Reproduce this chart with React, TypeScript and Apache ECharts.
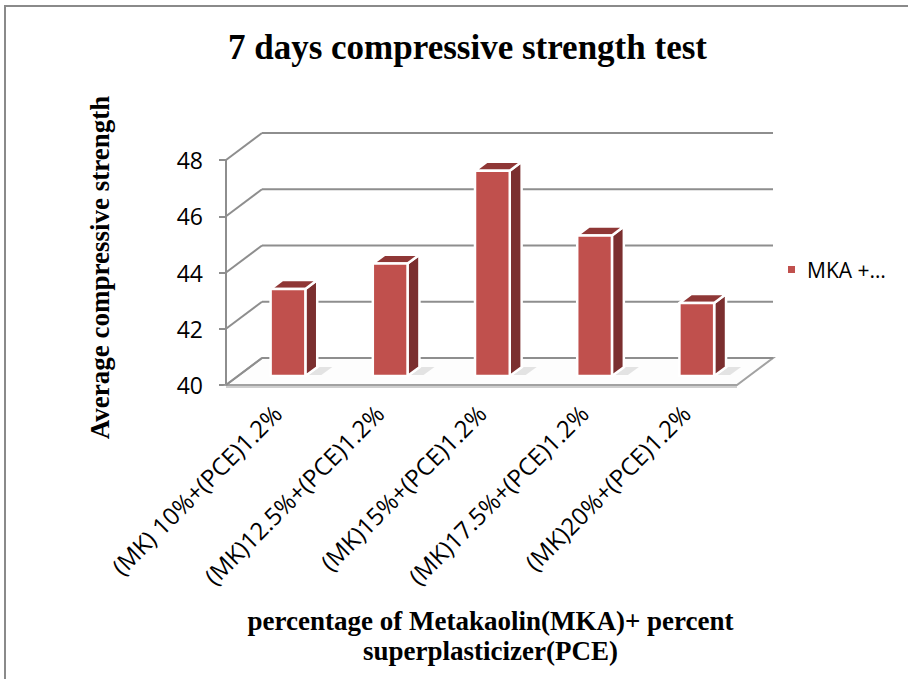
import React, { useEffect, useRef } from 'react';
import * as echarts from 'echarts';

const categories = [
  '(MK) 10%+(PCE)1.2%',
  '(MK)12.5%+(PCE)1.2%',
  '(MK)15%+(PCE)1.2%',
  '(MK)17.5%+(PCE)1.2%',
  '(MK)20%+(PCE)1.2%',
];
const strengths = [43.1, 44.0, 47.3, 45.0, 42.6];
const yTicks = [40, 42, 44, 46, 48];
const seriesName = 'MKA +…';
const chartTitle = '7 days compressive strength test';
const yTitle = 'Average compressive strength';
const xTitle = 'percentage of Metakaolin(MKA)+ percent\nsuperplasticizer(PCE)';

export default function App() {
  const ref = useRef<HTMLDivElement>(null);
  useEffect(() => {
    document.body.style.margin = '0';
    const chart = echarts.init(ref.current!, null, { renderer: 'svg' });
    const DX = 36;
    const DY = -27;
    const T0 = 0.33;
    const T1 = 0.66;
    const gridColor = '#8e8e8e';
    const serif = '"Liberation Serif", "Times New Roman", serif';
    const sans = '"Open Sans", "Noto Sans", sans-serif';

    const option: any = {
      animation: false,
      backgroundColor: '#ffffff',
      title: {
        text: chartTitle,
        left: 223,
        top: 25,
        textStyle: { fontFamily: serif, fontWeight: 'bold', fontSize: 35, color: '#000' },
      },
      legend: {
        data: [seriesName],
        left: 788,
        top: 259,
        padding: 0,
        icon: 'rect',
        itemWidth: 7,
        itemHeight: 7,
        textStyle: { fontFamily: sans, fontSize: 21, color: '#000', padding: [0, 0, 0, 7] },
      },
      graphic: [
        {
          type: 'polyline',
          shape: { points: [[908, 6], [5, 6], [5, 679]] },
          style: { stroke: '#8a8a8a', lineWidth: 2, fill: 'none' },
          silent: true,
        },
      ],
      grid: { left: 226, right: 171, top: 160, bottom: 294 },
      xAxis: {
        type: 'category',
        data: categories,
        boundaryGap: true,
        axisLine: { show: false },
        axisTick: { show: false },
        axisLabel: {
          rotate: 45,
          margin: 24,
          fontFamily: sans,
          fontSize: 24,
          color: '#000',
          interval: 0,
        },
        name: xTitle,
        nameLocation: 'middle',
        nameGap: 221,
        nameTextStyle: {
          fontFamily: serif,
          fontWeight: 'bold',
          fontSize: 27,
          lineHeight: 30,
          color: '#000',
          padding: [0, 0, 0, 18],
        },
      },
      yAxis: {
        type: 'value',
        min: 40,
        max: 48,
        interval: 2,
        axisLine: { show: true, lineStyle: { color: gridColor, width: 2 } },
        axisTick: { show: true, length: 7, lineStyle: { color: gridColor, width: 2 } },
        splitLine: { show: false },
        axisLabel: { margin: 23, fontFamily: sans, fontSize: 23, color: '#000' },
        name: yTitle,
        nameLocation: 'middle',
        nameRotate: 90,
        nameGap: 113,
        nameTextStyle: {
          fontFamily: serif,
          fontWeight: 'bold',
          fontSize: 27,
          color: '#000',
          padding: [0, 0, 0, 10],
        },
      },
      series: [
        {
          name: 'floor',
          type: 'custom',
          silent: true,
          data: [[0, yTicks[0]]],
          renderItem: (params: any, api: any) => {
            const cs = params.coordSys;
            const yb = api.coord([0, api.value(1)])[1];
            const x0 = cs.x;
            const x1 = cs.x + cs.width;
            return {
              type: 'group',
              children: [
                {
                  type: 'polygon',
                  shape: { points: [[x0, yb], [x1, yb], [x1 + DX, yb + DY], [x0 + DX, yb + DY]] },
                  style: { fill: '#fdfdfd', stroke: '#a2a2a2', lineWidth: 2 },
                },
                {
                  type: 'line',
                  shape: { x1: x0, y1: yb + 2, x2: x1, y2: yb + 2 },
                  style: { stroke: '#cfcfcf', lineWidth: 2 },
                },
              ],
            };
          },
        },
        {
          name: 'walls',
          type: 'custom',
          silent: true,
          data: yTicks.map((v) => [0, v]),
          renderItem: (params: any, api: any) => {
            const cs = params.coordSys;
            const y = api.coord([0, api.value(1)])[1];
            const x0 = cs.x;
            const x1 = cs.x + cs.width;
            return {
              type: 'group',
              children: [
                {
                  type: 'line',
                  shape: { x1: x0, y1: y, x2: x0 + DX, y2: y + DY },
                  style: { stroke: gridColor, lineWidth: 2 },
                },
                {
                  type: 'line',
                  shape: { x1: x0 + DX, y1: y + DY, x2: x1 + DX, y2: y + DY },
                  style: { stroke: gridColor, lineWidth: 2 },
                },
              ],
            };
          },
        },
        {
          name: seriesName,
          type: 'custom',
          itemStyle: { color: '#C0504D' },
          data: strengths.map((v, i) => [i, v]),
          renderItem: (params: any, api: any) => {
            const idx = api.value(0);
            const val = api.value(1);
            const band = api.size([1, 0])[0];
            const w = band * 0.34;
            const [cx, yt] = api.coord([idx, val]);
            const yb = api.coord([idx, yTicks[0]])[1];
            const ax = DX * T0;
            const ay = DY * T0;
            const bx = DX * T1;
            const by = DY * T1;
            const xl = cx - w / 2 + ax - 1;
            const xr = cx + w / 2 + ax - 1;
            const ytf = yt + ay;
            const ybf = yb + ay;
            const white = { stroke: '#ffffff', lineWidth: 2.5, lineJoin: 'round' };
            return {
              type: 'group',
              children: [
                {
                  type: 'polygon',
                  shape: { points: [[xr + 3, ybf - 1], [xr + 16, ybf - 1], [xr + 27, ybf - 9], [xr + 14, ybf - 9]] },
                  style: { fill: 'rgba(0,0,0,0.10)' },
                },
                {
                  type: 'polygon',
                  shape: { points: [[xr, ytf], [xr + bx - ax, ytf + by - ay], [xr + bx - ax, ybf + by - ay], [xr, ybf]] },
                  style: { fill: '#7B2F2F', ...white },
                },
                {
                  type: 'polygon',
                  shape: { points: [[xl, ytf], [xl + bx - ax, ytf + by - ay], [xr + bx - ax, ytf + by - ay], [xr, ytf]] },
                  style: { fill: '#8F3736', ...white },
                },
                {
                  type: 'rect',
                  shape: { x: xl, y: ytf, width: xr - xl, height: ybf - ytf },
                  style: { fill: '#C0504D', ...white },
                },
              ],
            };
          },
        },
      ],
    };
    chart.setOption(option);
    return () => chart.dispose();
  }, []);
  return <div ref={ref} style={{ width: 908, height: 679 }} />;
}
